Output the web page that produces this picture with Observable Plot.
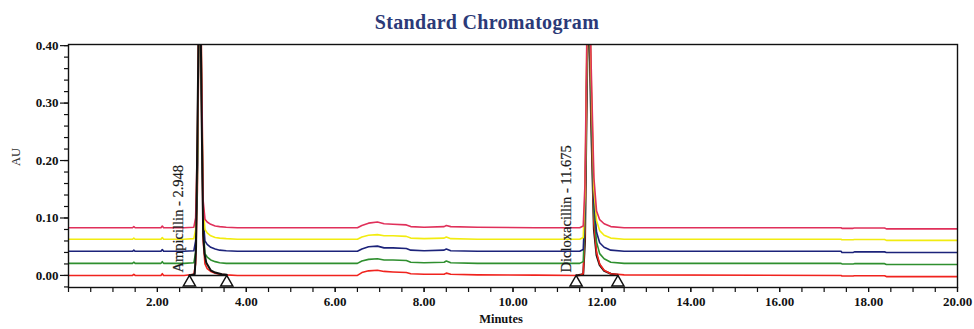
<!DOCTYPE html>
<html>
<head>
<meta charset="utf-8">
<script src="https://cdn.jsdelivr.net/npm/d3@7"></script>
<script src="https://cdn.jsdelivr.net/npm/@observablehq/plot@0.6"></script>
<style>
  html, body { margin: 0; padding: 0; background: #fff; }
  #title { box-sizing: border-box; width: 974px; height: 34px; padding-top: 12px;
    font: bold 20px/1 "Liberation Serif", serif; color: #2b3a78; text-align: center; letter-spacing: 0.3px; }
  #chart svg { display: block; }
</style>
</head>
<body>
<div id="title">Standard Chromatogram</div>
<div id="chart"></div>
<script>
// Shared time axis (minutes)
const minutes = [0, 1.44, 1.47, 1.5, 2.08, 2.11, 2.14, 2.6, 2.82, 2.86, 2.9, 2.93, 2.95, 2.97, 3.0, 3.03, 3.07, 3.12, 3.2, 3.3, 3.4, 3.55, 3.8,
  6.5, 6.6, 6.75, 6.95, 7.1, 7.3, 7.6, 7.7, 8.0, 8.45, 8.5, 8.6, 9.2, 10.5,
  11.5, 11.58, 11.62, 11.66, 11.69, 11.72, 11.76, 11.82, 11.88, 11.95, 12.05, 12.2, 12.5,
  17.38, 17.4, 17.65, 17.68, 18.36, 18.4, 20];

// Traces (AU), bottom to top
const run1AU = [0, 0, 0.002, 0, 0, 0.003, 0, 0, 0.002, 0.02, 0.15, 0.40, 0.48, 0.45, 0.25, 0.06, 0.02, 0.012, 0.007, 0.004, 0.002, 0.001, 0,
  0, 0.005, 0.008, 0.009, 0.007, 0.006, 0.005, 0.003, 0.002, 0.002, 0.004, 0.002, 0.001, 0.0005,
  0, 0.003, 0.08, 0.33, 0.47, 0.44, 0.28, 0.09, 0.04, 0.02, 0.009, 0.003, 0.001,
  0, -0.001, -0.001, -0.0005, -0.0005, -0.002, -0.002];
const run2AU = [0.021, 0.021, 0.023, 0.021, 0.021, 0.024, 0.021, 0.021, 0.022, 0.04, 0.17, 0.42, 0.50, 0.47, 0.27, 0.085, 0.038, 0.032, 0.027, 0.024, 0.022, 0.021, 0.021,
  0.021, 0.025, 0.028, 0.029, 0.027, 0.027, 0.026, 0.023, 0.022, 0.023, 0.025, 0.022, 0.021, 0.021,
  0.021, 0.024, 0.10, 0.35, 0.49, 0.46, 0.30, 0.11, 0.058, 0.038, 0.029, 0.023, 0.021,
  0.021, 0.020, 0.020, 0.0205, 0.0205, 0.019, 0.019];
const run3AU = [0.042, 0.042, 0.044, 0.042, 0.042, 0.045, 0.042, 0.042, 0.043, 0.06, 0.19, 0.44, 0.52, 0.49, 0.29, 0.10, 0.06, 0.054, 0.049, 0.046, 0.044, 0.043, 0.042,
  0.042, 0.046, 0.050, 0.051, 0.048, 0.048, 0.047, 0.044, 0.043, 0.044, 0.046, 0.043, 0.042, 0.042,
  0.042, 0.045, 0.12, 0.37, 0.51, 0.48, 0.32, 0.13, 0.075, 0.057, 0.049, 0.044, 0.042,
  0.042, 0.040, 0.040, 0.041, 0.041, 0.040, 0.040];
const run4AU = [0.063, 0.063, 0.065, 0.063, 0.063, 0.066, 0.063, 0.063, 0.064, 0.08, 0.21, 0.46, 0.54, 0.51, 0.31, 0.12, 0.08, 0.074, 0.069, 0.066, 0.065, 0.064, 0.063,
  0.063, 0.067, 0.070, 0.071, 0.069, 0.069, 0.068, 0.065, 0.064, 0.065, 0.067, 0.064, 0.063, 0.063,
  0.063, 0.066, 0.14, 0.39, 0.53, 0.50, 0.34, 0.15, 0.095, 0.078, 0.07, 0.065, 0.063,
  0.063, 0.062, 0.062, 0.0625, 0.0625, 0.061, 0.061];
const run5AU = [0.083, 0.083, 0.085, 0.083, 0.083, 0.086, 0.083, 0.083, 0.084, 0.10, 0.23, 0.48, 0.56, 0.53, 0.33, 0.13, 0.098, 0.093, 0.089, 0.086, 0.085, 0.084, 0.083,
  0.083, 0.087, 0.091, 0.093, 0.090, 0.089, 0.088, 0.085, 0.084, 0.085, 0.087, 0.085, 0.084, 0.083,
  0.083, 0.086, 0.16, 0.41, 0.55, 0.52, 0.36, 0.17, 0.112, 0.097, 0.09, 0.085, 0.083,
  0.083, 0.082, 0.082, 0.0825, 0.0825, 0.081, 0.081];

const seriesNames = ["Injection 1", "Injection 2", "Injection 3", "Injection 4", "Injection 5"];
const seriesColors = ["#f0231e", "#2f8f2f", "#1c237a", "#f2ec10", "#e0305a"];
const seriesValues = [run1AU, run2AU, run3AU, run4AU, run5AU];

// Integrated peaks (black outline)
const ampMinutes = [2.72, 2.84, 2.87, 2.9, 2.93, 2.95, 2.97, 3.0, 3.03, 3.06, 3.1, 3.2, 3.3, 3.45, 3.56];
const ampAU = [0, 0.002, 0.05, 0.25, 0.45, 0.5, 0.46, 0.25, 0.07, 0.038, 0.022, 0.009, 0.005, 0.002, 0.001];
const dicloxMinutes = [11.42, 11.58, 11.62, 11.66, 11.69, 11.72, 11.76, 11.82, 11.88, 11.95, 12.05, 12.2, 12.36];
const dicloxAU = [0, 0.002, 0.06, 0.32, 0.46, 0.42, 0.26, 0.08, 0.035, 0.018, 0.008, 0.003, 0.001];

// Peak labels and integration markers
const compoundNames = ["Ampicillin", "Dicloxacillin"];
const retentionTimes = [2.948, 11.675];
const peakStarts = [2.72, 11.42];
const peakEnds = [3.56, 12.36];

// Axis ticks
const xTicks = [2, 4, 6, 8, 10, 12, 14, 16, 18, 20];
const xMinorTicks = d3.range(0, 20.001, 0.5);
const yTicks = [0, 0.1, 0.2, 0.3, 0.4];
const yMinorTicks = d3.range(-0.02, 0.401, 0.02);

const traces = seriesNames.flatMap((name, s) => minutes.map((t, i) => ({series: name, minutes: t, au: seriesValues[s][i]})));
const ampRows = ampMinutes.map((t, i) => ({minutes: t, au: ampAU[i]}));
const dicloxRows = dicloxMinutes.map((t, i) => ({minutes: t, au: dicloxAU[i]}));
const peaks = compoundNames.map((name, i) => ({label: `${name} - ${retentionTimes[i]}`, rt: retentionTimes[i], start: peakStarts[i], end: peakEnds[i]}));
const markers = peaks.flatMap(p => [{minutes: p.start}, {minutes: p.end}]);

const chart = Plot.plot({
  width: 974, height: 295,
  marginTop: 10, marginBottom: 42, marginLeft: 68, marginRight: 17,
  style: {fontFamily: "Liberation Serif, serif", fontSize: "13px", color: "#111", background: "#fff"},
  x: {domain: [0, 20]},
  y: {domain: [-0.021, 0.402]},
  color: {type: "ordinal", domain: seriesNames, range: seriesColors},
  marks: [
    Plot.line(dicloxRows, {x: "minutes", y: "au", stroke: "#111", strokeWidth: 2, clip: true}),
    Plot.line(traces, {x: "minutes", y: "au", z: "series", stroke: "series", strokeWidth: 1.6, clip: true}),
    Plot.line(ampRows, {x: "minutes", y: "au", stroke: "#111", strokeWidth: 2, clip: true}),
    Plot.link(peaks, {x1: "start", x2: "end", y1: 0, y2: 0, stroke: "#111", strokeWidth: 1.5}),
    Plot.dot(markers, {x: "minutes", y: 0, dy: 7, symbol: "triangle", r: 4.5, fill: "#fff", stroke: "#111", strokeWidth: 1.5}),
    Plot.text(peaks, {x: "rt", y: 0, text: "label", rotate: -90, textAnchor: "start", dx: -21, dy: -3, fontSize: 14.5, fill: "#1a1a1a", stroke: "#1a1a1a", strokeWidth: 0.2}),
    Plot.frame({stroke: "#111", strokeWidth: 1.4}),
    Plot.axisX({ticks: xMinorTicks, tickSize: 5, text: null, label: null, strokeWidth: 1.2}),
    Plot.axisX({ticks: xTicks, tickSize: 5, tickPadding: 4, tickFormat: d3.format(".2f"), label: null, fontWeight: "bold", fontSize: 13, strokeWidth: 1.2}),
    Plot.axisY({ticks: yMinorTicks, tickSize: 4, text: null, label: null, strokeWidth: 1.2}),
    Plot.axisY({ticks: yTicks, tickSize: 8, tickPadding: 2, tickFormat: d3.format(".2f"), label: null, fontWeight: "bold", fontSize: 13, strokeWidth: 1.2}),
    Plot.text(["Minutes"], {frameAnchor: "bottom", dy: 35, dx: -12, fontWeight: "bold", fontSize: 12.5}),
    Plot.text(["AU"], {frameAnchor: "left", dx: -53, rotate: -90, fontSize: 12.5, fill: "#333"})
  ]
});
document.getElementById("chart").appendChild(chart);
</script>
</body>
</html>
